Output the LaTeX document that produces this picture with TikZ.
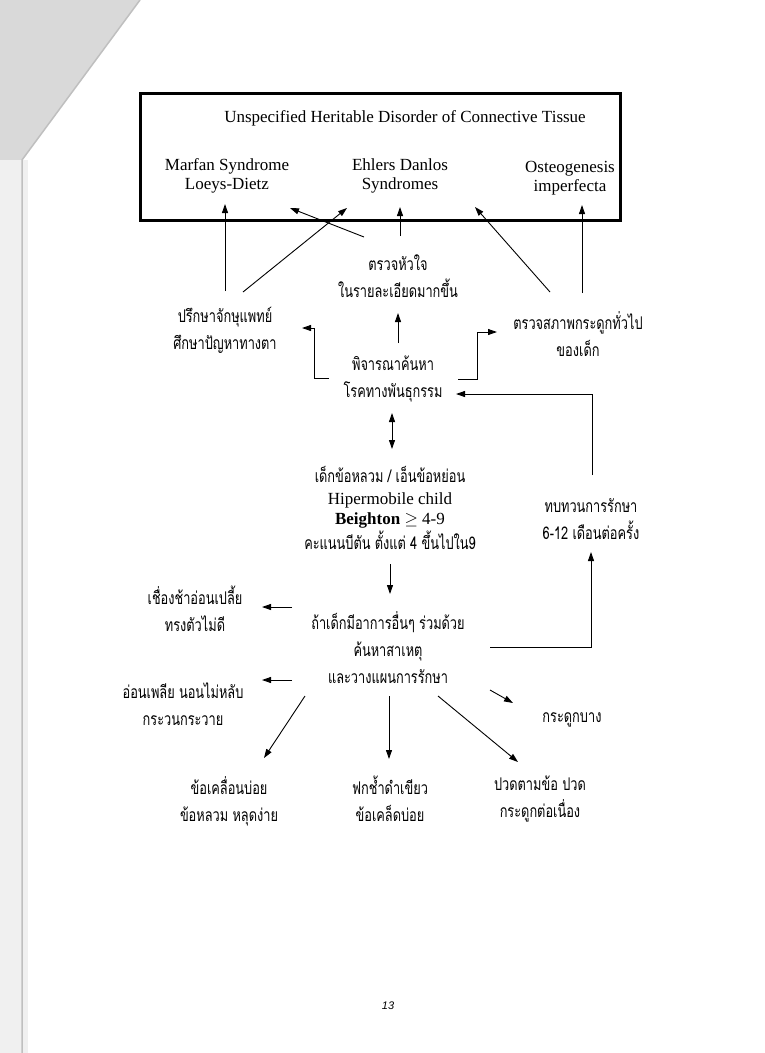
\documentclass[tikz,border=0pt]{standalone}
\usepackage{fontspec}
\setmainfont{Liberation Serif}
\newfontfamily\thaifont[Script=Thai, FakeStretch=0.73]{Loma}
\newfontfamily\sansf{Liberation Sans}
\usetikzlibrary{arrows.meta}
\begin{document}
\begin{tikzpicture}[x=1pt,y=-1pt,
  lat/.style={font=\fontsize{17}{19.5}\selectfont, align=center, inner sep=0pt},
  th/.style={font=\thaifont\fontsize{17.5}{27}\selectfont, align=center, inner sep=0pt},
  arr/.style={line width=0.9pt, -{Triangle[length=9pt,width=6pt]}},
  darr/.style={line width=0.9pt, {Triangle[length=9pt,width=6pt]}-{Triangle[length=9pt,width=6pt]}},
  ln/.style={line width=0.9pt}]
\useasboundingbox (0,0) rectangle (765,1053);
% scan shadow of the folded corner
\fill[gray!30] (0,0) -- (140,0) -- (22,160) -- (0,160) -- cycle;
\fill[gray!12] (0,160) rectangle (28,1053);
\draw[gray!50, line width=1.5pt] (140,0) -- (22,160) -- (22,1053);

% main box
\node[draw, line width=3pt, minimum width=480, minimum height=127, inner sep=0pt] (box) at (380,156.5) {};
\node[lat] (title) at (405,118) {Unspecified Heritable Disorder of Connective Tissue};
\node[lat] (marfan) at (227,176) {Marfan Syndrome\\Loeys-Dietz};
\node[lat] (ehlers) at (400,176) {Ehlers Danlos\\Syndromes};
\node[lat] (osteo) at (570,178) {Osteogenesis\\imperfecta};

% Thai nodes
\node[th] (heart) at (398,276) {ตรวจหัวใจ\\ในรายละเอียดมากขึ้น};
\node[th] (eye) at (225,330) {ปรึกษาจักษุแพทย์\\ศึกษาปัญหาทางตา};
\node[th] (genetic) at (393,379) {พิจารณาค้นหา\\โรคทางพันธุกรรม};
\node[th] (bone) at (578,334) {ตรวจสภาพกระดูกทั่วไป\\ของเด็ก};
\node[align=center, inner sep=0pt, font=\fontsize{17}{20}\selectfont] (hyper) at (390,508) {%
  {\thaifont\fontsize{17.5}{20}\selectfont เด็กข้อหลวม / เอ็นข้อหย่อน}\\[2pt]
  Hipermobile child\\[0pt]
  \textbf{Beighton} $\geq$ 4-9\\[1pt]
  {\thaifont\fontsize{17.5}{20}\selectfont คะแนนบีตัน ตั้งแต่ 4 ขึ้นไปใน9}};
\node[th] (review) at (591,519) {ทบทวนการรักษา\\6-12 เดือนต่อครั้ง};
\node[th] (other) at (388,648) {ถ้าเด็กมีอาการอื่นๆ ร่วมด้วย\\ค้นหาสาเหตุ\\และวางแผนการรักษา};
\node[th] (slow) at (195,609) {เชื่องช้าอ่อนเปลี้ย\\ทรงตัวไม่ดี};
\node[th] (weak) at (183,704) {อ่อนเพลีย นอนไม่หลับ\\กระวนกระวาย};
\node[th] (thin) at (572,720) {กระดูกบาง};
\node[th] (disloc) at (229,801) {ข้อเคลื่อนบ่อย\\ข้อหลวม หลุดง่าย};
\node[th] (bruise) at (390,799) {ฟกช้ำดำเขียว\\ข้อเคล็ดบ่อย};
\node[th] (pain) at (540,799) {ปวดตามข้อ ปวด\\กระดูกต่อเนื่อง};
\node[font=\sansf\itshape\fontsize{11}{12}\selectfont, inner sep=0pt] (page) at (388,1006) {13};

% connector end points
\coordinate (e1a) at (225,291); \coordinate (e1b) at (225,204);
\coordinate (e2a) at (243,292); \coordinate (e2b) at (347,208);
\coordinate (h1a) at (364,237); \coordinate (h1b) at (290,208);
\coordinate (h2a) at (400,236); \coordinate (h2b) at (400,207);
\coordinate (b1a) at (550,292); \coordinate (b1b) at (475,207);
\coordinate (b2a) at (582,293); \coordinate (b2b) at (582,205);
\coordinate (g1a) at (398,343); \coordinate (g1b) at (398,313);
\coordinate (gLa) at (329,378); \coordinate (gLb) at (302,328);
\coordinate (gRa) at (458,379); \coordinate (gRb) at (497,332);
\coordinate (rva) at (592,475); \coordinate (rvb) at (456,394);
\coordinate (hya) at (392,413); \coordinate (hyb) at (392,449);
\coordinate (hdn) at (390,564); \coordinate (otop) at (390,594);
\coordinate (s1a) at (292,607); \coordinate (s1b) at (262,607);
\coordinate (w1a) at (292,680); \coordinate (w1b) at (262,680);
\coordinate (rla) at (490,647); \coordinate (rlb) at (591,552);
\coordinate (t1a) at (490,690); \coordinate (t1b) at (513,703);
\coordinate (d1a) at (305,696); \coordinate (d1b) at (264,758);
\coordinate (d2a) at (389,696); \coordinate (d2b) at (389,759);
\coordinate (d3a) at (438,696); \coordinate (d3b) at (518,762);

\draw[arr] (e1a) -- (e1b);
\draw[arr] (e2a) -- (e2b);
\draw[arr] (h1a) -- (h1b);
\draw[arr] (h2a) -- (h2b);
\draw[arr] (b1a) -- (b1b);
\draw[arr] (b2a) -- (b2b);
\draw[arr] (g1a) -- (g1b);
\draw[arr] (gLa) -- (314,378) -- (314,328) -- (gLb);
\draw[arr] (gRa) -- (477,379) -- (477,332) -- (gRb);
\draw[arr] (rva) -- (592,394) -- (rvb);
\draw[darr] (hya) -- (hyb);
\draw[arr] (hdn) -- (otop);
\draw[arr] (s1a) -- (s1b);
\draw[arr] (w1a) -- (w1b);
\draw[arr] (rla) -- (591,647) -- (rlb);
\draw[arr] (t1a) -- (t1b);
\draw[arr] (d1a) -- (d1b);
\draw[arr] (d2a) -- (d2b);
\draw[arr] (d3a) -- (d3b);
\end{tikzpicture}
\end{document}
